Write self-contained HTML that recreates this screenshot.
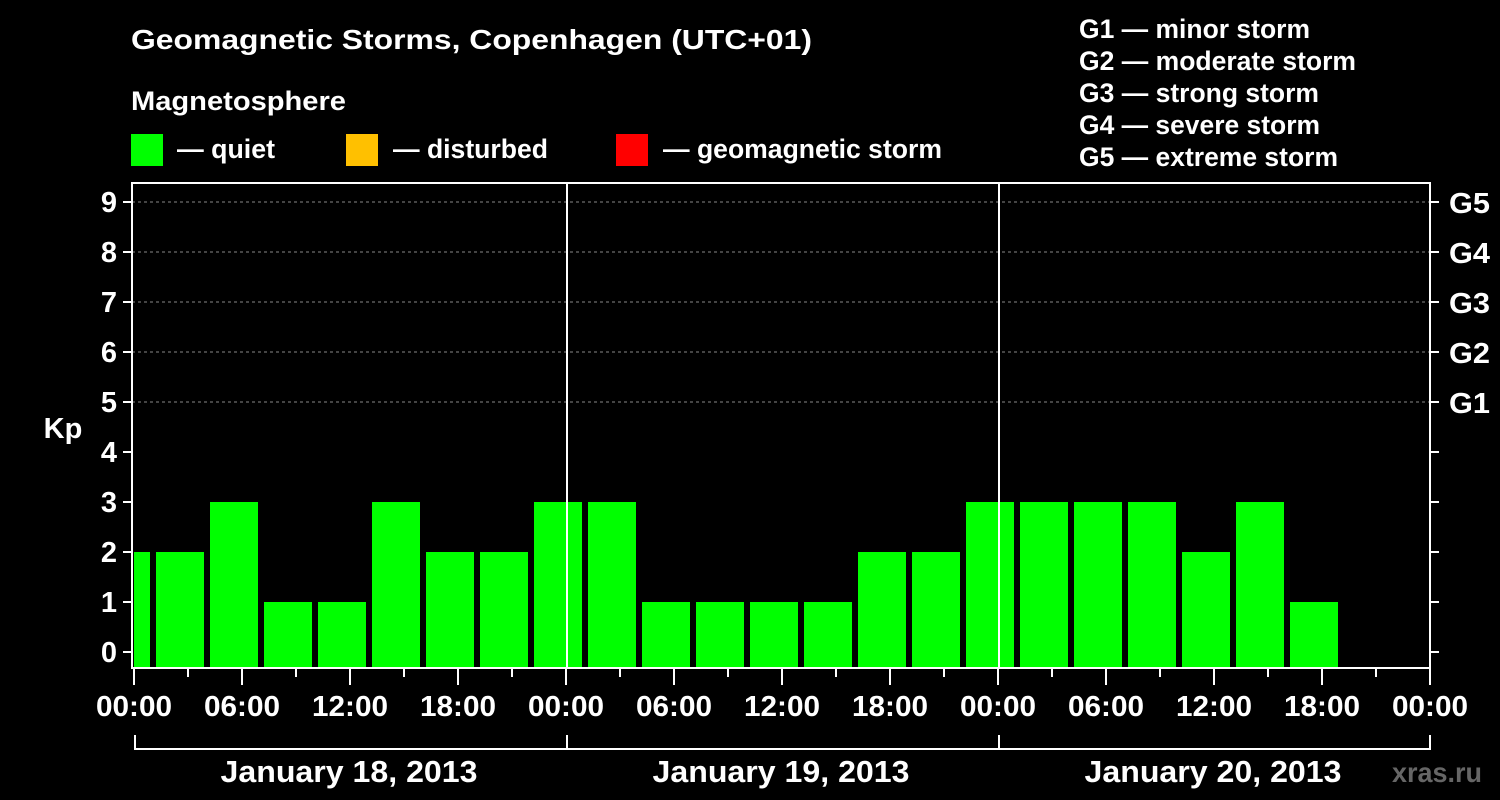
<!DOCTYPE html><html><head><style>body{margin:0;background:#000}svg{display:block}text{font-family:"Liberation Sans",sans-serif;font-weight:bold;fill:#fff}</style></head><body>
<svg width="1500" height="800" xmlns="http://www.w3.org/2000/svg">
<rect width="1500" height="800" fill="#000"/>
<text x="131" y="49" font-size="28" textLength="681" lengthAdjust="spacingAndGlyphs">Geomagnetic Storms, Copenhagen (UTC+01)</text>
<text x="131" y="110" font-size="27" textLength="215" lengthAdjust="spacingAndGlyphs">Magnetosphere</text>
<rect x="131" y="134" width="32" height="32" fill="#00ff00"/><text x="177" y="158" font-size="27" textLength="98" lengthAdjust="spacingAndGlyphs">— quiet</text>
<rect x="346" y="134" width="32" height="32" fill="#ffc000"/><text x="393" y="158" font-size="27" textLength="155" lengthAdjust="spacingAndGlyphs">— disturbed</text>
<rect x="616" y="134" width="32" height="32" fill="#ff0000"/><text x="663" y="158" font-size="27" textLength="279" lengthAdjust="spacingAndGlyphs">— geomagnetic storm</text>
<g font-size="27"><text x="1079" y="38" textLength="231" lengthAdjust="spacingAndGlyphs">G1 — minor storm</text><text x="1079" y="70" textLength="277" lengthAdjust="spacingAndGlyphs">G2 — moderate storm</text><text x="1079" y="102" textLength="240" lengthAdjust="spacingAndGlyphs">G3 — strong storm</text><text x="1079" y="134" textLength="241" lengthAdjust="spacingAndGlyphs">G4 — severe storm</text><text x="1079" y="166" textLength="259" lengthAdjust="spacingAndGlyphs">G5 — extreme storm</text></g>
<g stroke="#888" stroke-dasharray="3,3" stroke-width="1">
<line x1="132" x2="1430" y1="202" y2="202"/><line x1="132" x2="1430" y1="252" y2="252"/><line x1="132" x2="1430" y1="302" y2="302"/><line x1="132" x2="1430" y1="352" y2="352"/><line x1="132" x2="1430" y1="402" y2="402"/></g>
<g fill="#00ff00" id="bars"></g>
<line x1="567" x2="567" y1="182" y2="668" stroke="#fff" stroke-width="2"/>
<line x1="999" x2="999" y1="182" y2="668" stroke="#fff" stroke-width="2"/>
<rect x="132" y="183" width="1298" height="485" fill="none" stroke="#fff" stroke-width="2"/>
<g id="ticks" stroke="#fff" stroke-width="2"></g>
<g id="lbl" font-size="29"></g>
<text x="63" y="438" font-size="29" text-anchor="middle">Kp</text>
<path d="M135 735V749H1430V735M567 735V749M999 735V749" stroke="#fff" stroke-width="2" fill="none"/>
<text x="349" y="782" font-size="31" text-anchor="middle" textLength="257" lengthAdjust="spacingAndGlyphs">January 18, 2013</text>
<text x="781" y="782" font-size="31" text-anchor="middle" textLength="257" lengthAdjust="spacingAndGlyphs">January 19, 2013</text>
<text x="1213" y="782" font-size="31" text-anchor="middle" textLength="257" lengthAdjust="spacingAndGlyphs">January 20, 2013</text>
<text x="1482" y="782" font-size="28" text-anchor="end" style="fill:#666" textLength="90" lengthAdjust="spacingAndGlyphs">xras.ru</text>
<script>
var v=[2,2,3,1,1,3,2,2,3,3,1,1,1,1,2,2,3,3,3,3,2,3,1],ns="http://www.w3.org/2000/svg",b=document.getElementById('bars'),t=document.getElementById('ticks'),l=document.getElementById('lbl');
function el(p,n,a,tx){var e=document.createElementNS(ns,n);for(var k in a)e.setAttribute(k,a[k]);if(tx)e.textContent=tx;p.appendChild(e);}
v.forEach(function(h,k){var x=102+54*k,x2=x+48;if(x<134)x=134;el(b,'rect',{x:x,y:652-50*h,width:x2-x,height:16+50*h});});
for(var i=0;i<=9;i++){var y=652-50*i;el(t,'line',{x1:123,x2:131,y1:y,y2:y});el(t,'line',{x1:1431,x2:1439,y1:y,y2:y});el(l,'text',{x:117,y:y+10,'text-anchor':'end'},''+i);if(i>=5)el(l,'text',{x:1449,y:y+11,textLength:41,lengthAdjust:'spacingAndGlyphs'},'G'+(i-4));}
var h=['00:00','06:00','12:00','18:00'];
for(var i=0;i<=24;i++){var x=134+54*i;el(t,'line',{x1:x,x2:x,y1:669,y2:i%2?677:685});if(i%2==0)el(l,'text',{x:x,y:716,'text-anchor':'middle',textLength:76,lengthAdjust:'spacingAndGlyphs'},h[(i/2)%4]);}
</script>
</svg></body></html>
